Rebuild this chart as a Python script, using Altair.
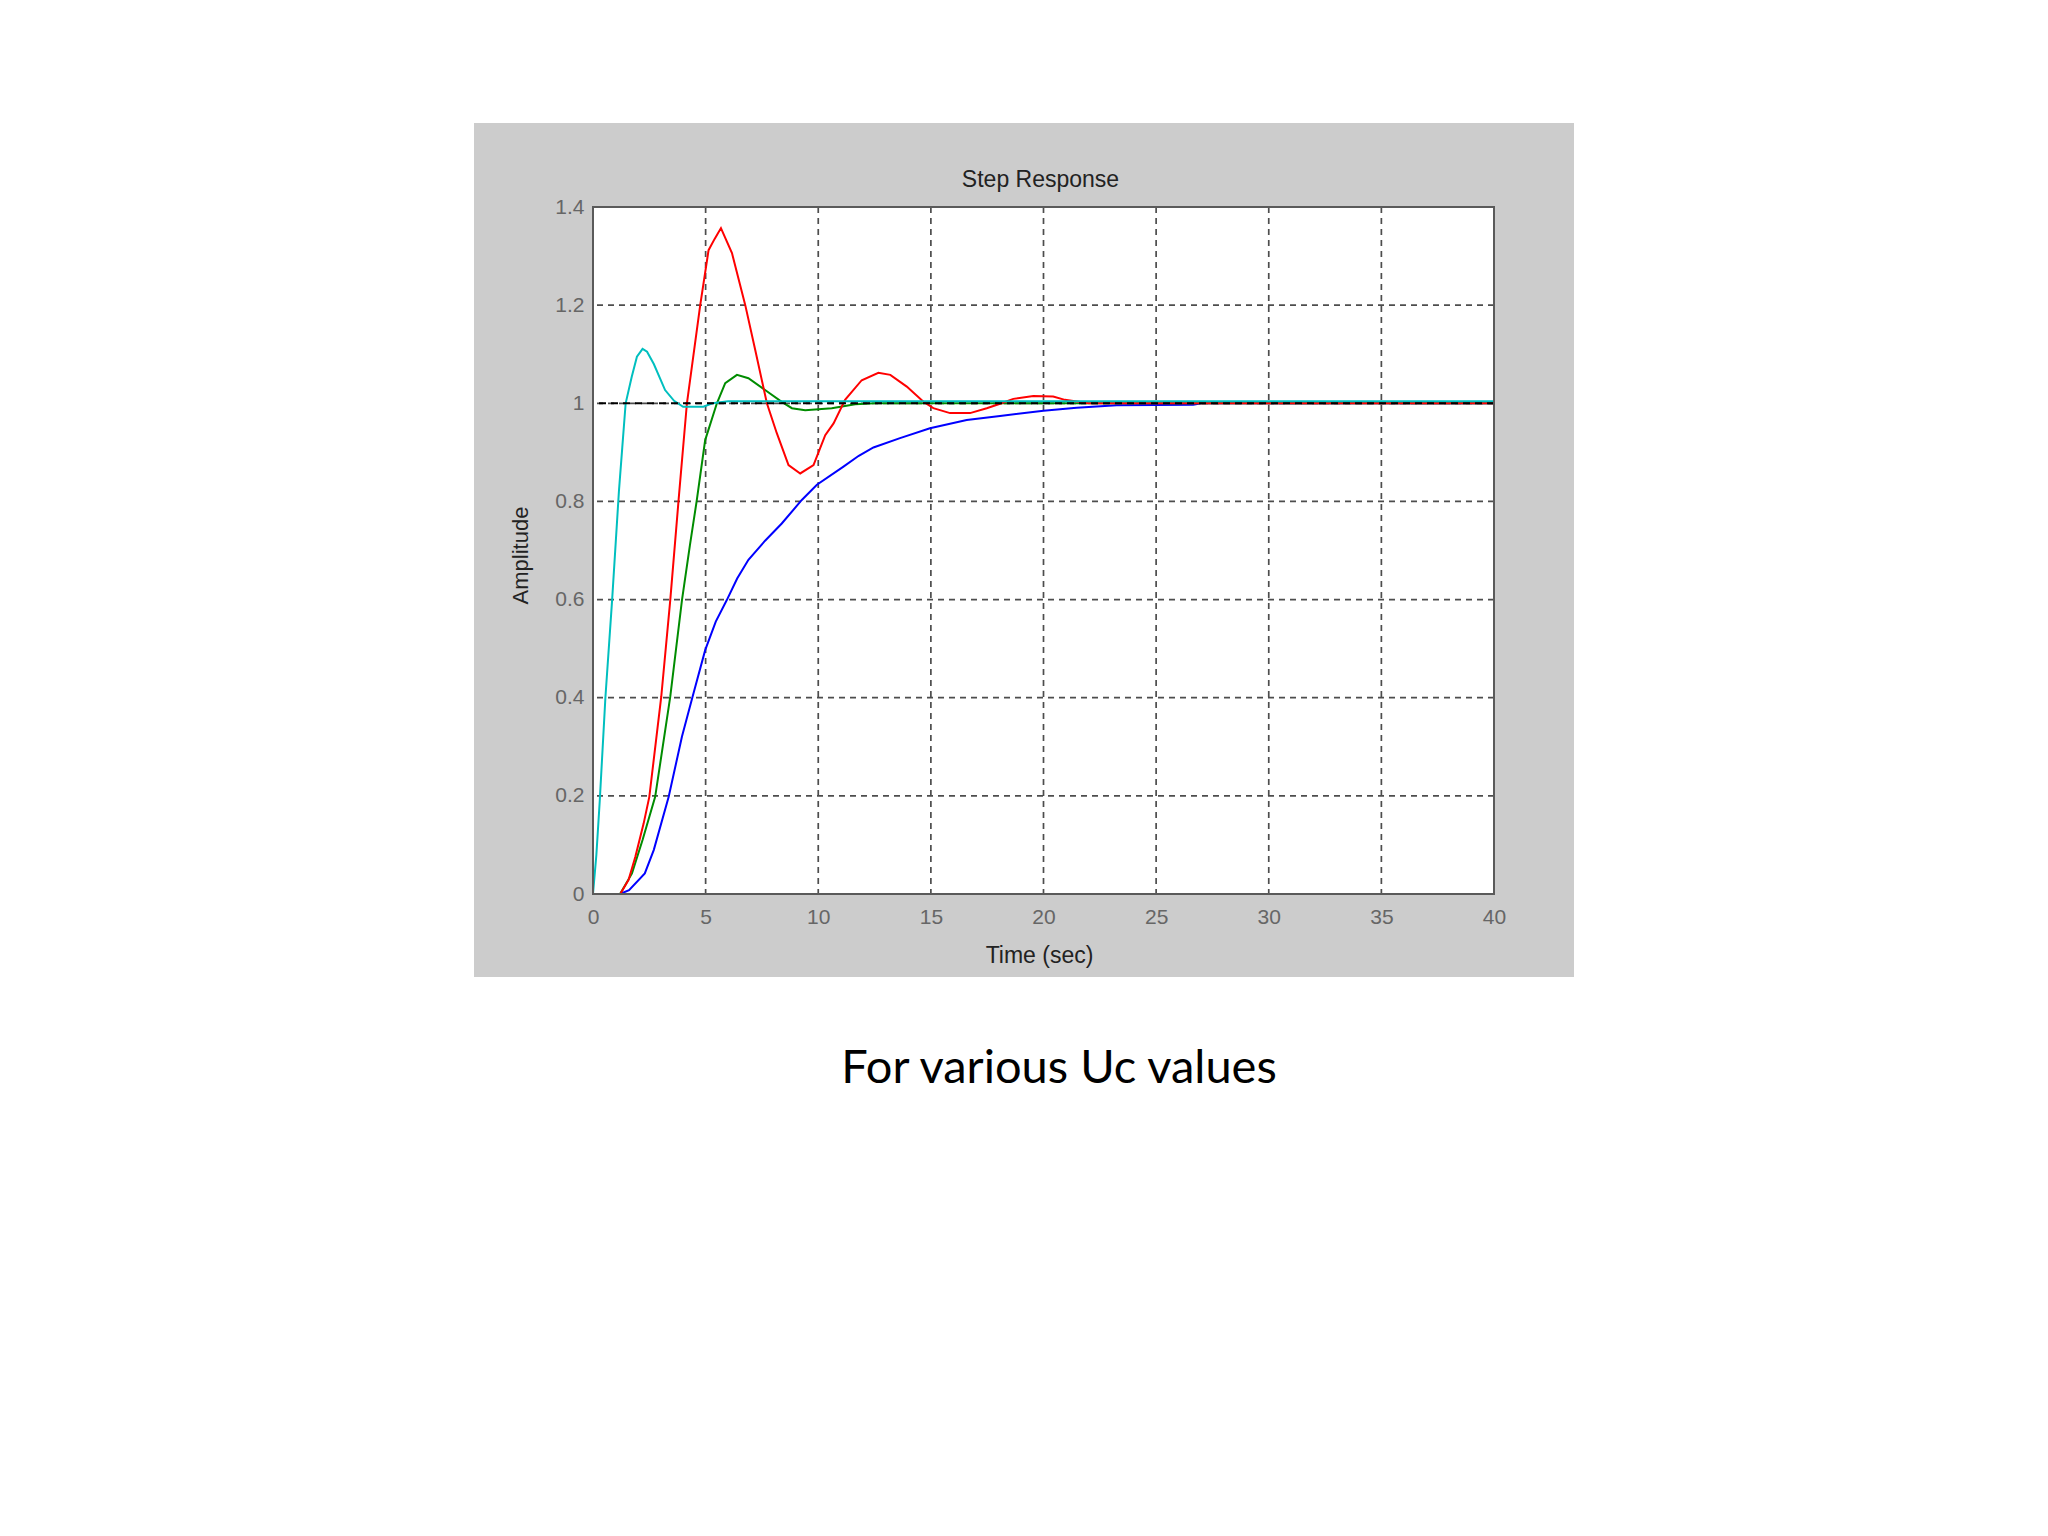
import altair as alt
import pandas as pd

# ---- data ----
x_ticks = [0, 5, 10, 15, 20, 25, 30, 35, 40]
y_ticks = [0, 0.2, 0.4, 0.6, 0.8, 1.0, 1.2, 1.4]
ss_level = [1.0]

blue_t = [0, 1.2, 1.6, 2.3, 2.7, 3.36, 3.95, 4.42, 4.98, 5.45, 5.94, 6.4, 6.9, 7.64, 8.38, 9.27, 9.94,
          11.12, 11.8, 12.45, 13.63, 14.96, 16.59, 18.07, 20.0, 21.47, 23.25, 26.65, 27.0, 40]
blue_a = [0, 0, 0.008, 0.042, 0.09, 0.198, 0.321, 0.402, 0.497, 0.555, 0.599, 0.643, 0.681, 0.72, 0.755, 0.803, 0.834,
          0.871, 0.893, 0.91, 0.929, 0.949, 0.966, 0.974, 0.985, 0.991, 0.996, 0.997, 1.0, 1.0]

green_t = [0, 1.2, 1.73, 2.2, 2.76, 3.43, 3.95, 4.3, 4.61, 4.98, 5.5, 5.87, 6.39, 6.9,
           7.64, 8.38, 8.83, 9.42, 10.6, 11.64, 12.5, 40]
green_a = [0, 0, 0.042, 0.11, 0.198, 0.402, 0.599, 0.71, 0.803, 0.925, 1.0, 1.041, 1.058, 1.051,
           1.027, 1.003, 0.99, 0.986, 0.99, 0.998, 1.0, 1.0]

red_t = [0, 1.21, 1.58, 1.88, 2.25, 2.5, 3.03, 3.43, 3.8, 4.17, 4.76, 5.13, 5.4, 5.68, 6.17,
         6.76, 7.2, 7.72, 8.16, 8.68, 9.2, 9.79, 10.31, 10.68, 11.19, 11.93, 12.67, 13.2,
         13.93, 14.67, 15.11, 15.85, 16.74, 17.48, 18.07, 18.66, 19.55, 20.43, 20.95, 22, 40]
red_a = [0, 0, 0.029, 0.076, 0.144, 0.198, 0.402, 0.599, 0.803, 1.0, 1.2, 1.312, 1.335, 1.357, 1.306,
         1.2, 1.109, 1.0, 0.939, 0.874, 0.857, 0.874, 0.935, 0.959, 1.007, 1.047, 1.062, 1.058,
         1.034, 1.003, 0.99, 0.98, 0.98, 0.99, 0.999, 1.009, 1.015, 1.014, 1.007, 1.0, 1.0]

cyan_t = [0, 0.15, 0.3, 0.55, 0.85, 1.15, 1.3, 1.45, 1.72, 1.95, 2.2, 2.4, 2.7, 3.2, 3.6,
          4.0, 4.9, 5.3, 6.0, 40]
cyan_a = [0, 0.08, 0.19, 0.40, 0.60, 0.82, 0.91, 1.0, 1.054, 1.095, 1.111, 1.105, 1.08, 1.027, 1.005,
          0.993, 0.993, 1.0, 1.004, 1.004]

title_text = "Step Response"
x_title = "Time (sec)"
y_title = "Amplitude"
caption_text = "For various Uc values"

# ---- layout ----
W, H = 901, 687
FONT = "Liberation Sans"

xs = alt.Scale(domain=[0, 40], nice=False, zero=False)
ys = alt.Scale(domain=[0, 1.4], nice=False, zero=False)

xaxis = alt.Axis(values=x_ticks, grid=False, domain=False, ticks=False, labelFlush=False,
                 labelOverlap=False, labelFont=FONT, labelFontSize=21, labelColor="#666666",
                 labelPadding=12, title=x_title, titleFont=FONT, titleFontSize=23,
                 titleFontWeight="normal", titleColor="#222222", titleX=446, titleY=68,
                 titleAlign="center", titleBaseline="alphabetic", zindex=1)
yaxis = alt.Axis(values=y_ticks, format="~g", grid=False, domain=False, ticks=False,
                 labelFlush=False, labelOverlap=False, labelFont=FONT, labelFontSize=21,
                 labelColor="#666666", labelPadding=9, title=y_title, titleFont=FONT,
                 titleFontSize=22, titleFontWeight="normal", titleColor="#222222",
                 titleAngle=270, titleX=-66, titleY=348, titleAlign="center",
                 titleBaseline="alphabetic", zindex=1)

one = pd.DataFrame({"k": [0]})

panel = alt.Chart(one).mark_rect(color="#cccccc").encode(
    x=alt.value(-119), x2=alt.value(981), y=alt.value(-84), y2=alt.value(770))
plotbg = alt.Chart(one).mark_rect(color="white").encode(
    x=alt.value(0), x2=alt.value(W), y=alt.value(0), y2=alt.value(H))

vgrid = alt.Chart(pd.DataFrame({"t": x_ticks})).mark_rule(
    color="#4d4d4d", strokeDash=[6, 5], strokeWidth=1.7).encode(
    x=alt.X("t:Q", scale=xs, axis=xaxis))
hgrid = alt.Chart(pd.DataFrame({"a": y_ticks})).mark_rule(
    color="#4d4d4d", strokeDash=[6, 5], strokeWidth=1.7).encode(
    y=alt.Y("a:Q", scale=ys, axis=yaxis))


def curve(t, a, color):
    return alt.Chart(pd.DataFrame({"t": t, "a": a})).mark_line(
        color=color, strokeWidth=2).encode(
        x=alt.X("t:Q", scale=xs, axis=xaxis),
        y=alt.Y("a:Q", scale=ys, axis=yaxis))


blue = curve(blue_t, blue_a, "#0000ff")
green = curve(green_t, green_a, "#008c00")
red = curve(red_t, red_a, "#ff0000")
cyan = curve(cyan_t, cyan_a, "#00bfbf")

ss = alt.Chart(pd.DataFrame({"a": ss_level})).mark_rule(
    color="black", strokeDash=[7, 5], strokeWidth=2).encode(
    y=alt.Y("a:Q", scale=ys, axis=yaxis))

frame = alt.Chart(one).mark_rect(filled=False, stroke="#5a5a5a", strokeWidth=2).encode(
    x=alt.value(0), x2=alt.value(W), y=alt.value(0), y2=alt.value(H))

title = alt.Chart(one).mark_text(text=title_text, font=FONT, fontSize=23, color="#222222",
                                 align="center", baseline="alphabetic").encode(
    x=alt.value(447.5), y=alt.value(-20.5))

caption = alt.Chart(one).mark_text(text=caption_text, font="Lato", fontSize=47, color="black",
                                   align="center", baseline="alphabetic").encode(
    x=alt.value(466), y=alt.value(876))

chart = alt.layer(panel, plotbg, vgrid, hgrid, blue, green, red, cyan, ss, frame,
                  title, caption).properties(
    width=W, height=H,
    autosize=alt.AutoSizeParams(type="none"),
    padding={"left": 585, "top": 199, "right": 546, "bottom": 306},
    background="white",
).configure_view(stroke="transparent")

chart.save("out.html", embed_options={"renderer": "svg", "actions": False})
